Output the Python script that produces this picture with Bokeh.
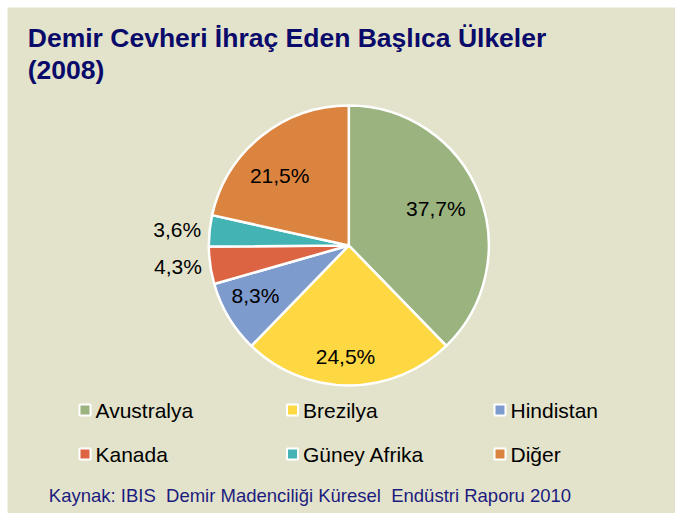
import math
from bokeh.plotting import figure
from bokeh.models import Range1d, ColumnDataSource
from bokeh.core.properties import value
from bokeh.embed import file_html
from bokeh.resources import INLINE

# ---------------- data ----------------
countries = ["Avustralya", "Brezilya", "Hindistan", "Kanada", "Güney Afrika", "Diğer"]
shares = [37.7, 24.5, 8.3, 4.3, 3.6, 21.5]
share_labels = ["37,7%", "24,5%", "8,3%", "4,3%", "3,6%", "21,5%"]
title_lines = ["Demir Cevheri İhraç Eden Başlıca Ülkeler", "(2008)"]
source_note = "Kaynak: IBIS\u00a0 Demir Madenciliği Küresel\u00a0 Endüstri Raporu 2010"

# ---------------- style ----------------
colors = ["#9BB37F", "#FDD843", "#7E9BCE", "#DC6443", "#43B4B3", "#DB843F"]
BG = "#E3E3CB"
NAVY = "#0A0A6A"
SRC_COL = "#1C1C7E"
FONT = "Liberation Sans"
W, H = 675, 513
PAD = 7
CX, CY_PAGE, R = 348.3, 245.0, 140.0
label_rad = [0.675, 0.79, 0.757, 1.06, 1.06, 0.705]
label_rot = [0.9, -1.7, -2.6, 0.0, 0.0, 5.7]
label_inside = [True, True, True, False, False, True]


def Y(page_y):
    return H - page_y


p = figure(width=W, height=H, output_backend="svg", toolbar_location=None,
           x_range=Range1d(PAD, W), y_range=Range1d(0, H - PAD),
           x_axis_location=None, y_axis_location=None,
           min_border_left=PAD, min_border_top=PAD,
           min_border_right=0, min_border_bottom=0,
           background_fill_color=BG, border_fill_color="white",
           outline_line_color=None)
p.grid.visible = False

# ---------------- pie ----------------
total = sum(shares)
starts, ends, mids = [], [], []
cum = 0.0
for s in shares:
    a0 = math.pi / 2 - (cum + s) / total * 2 * math.pi
    a1 = math.pi / 2 - cum / total * 2 * math.pi
    starts.append(a0)
    ends.append(a1)
    mids.append((a0 + a1) / 2)
    cum += s

cy = Y(CY_PAGE)
src = ColumnDataSource(dict(start=starts, end=ends, color=colors))
p.wedge(x=CX, y=cy, radius=R, start_angle="start", end_angle="end",
        fill_color="color", line_color="white", line_width=2.5, source=src)

in_x, in_y, in_t, out_x, out_y, out_t = [], [], [], [], [], []
for m, rf, rot, ins, t in zip(mids, label_rad, label_rot, label_inside, share_labels):
    a = m + math.radians(rot)
    x = CX + R * rf * math.cos(a)
    y = cy + R * rf * math.sin(a)
    if ins:
        in_x.append(x); in_y.append(y); in_t.append(t)
    else:
        out_x.append(x); out_y.append(y); out_t.append(t)

p.text(x=in_x, y=in_y, text=in_t, text_font=value(FONT), text_font_size="21px",
       text_color="black", text_align="center", text_baseline="middle")
p.text(x=out_x, y=out_y, text=out_t, text_font=value(FONT), text_font_size="21px",
       text_color="black", text_align="right", text_baseline="middle")

# ---------------- title ----------------
p.text(x=[27.3, 27.3], y=[Y(37.5), Y(69.5)], text=title_lines,
       text_font=value(FONT), text_font_size="26.5px", text_font_style="bold",
       text_color=NAVY, text_align="left", text_baseline="middle")

# ---------------- legend ----------------
LEG_X0, LEG_DX = 84.5, 207.5
LEG_Y0, LEG_DY = 409.5, 44.0
sq_x, sq_y, tx, ty = [], [], [], []
for i, name in enumerate(countries):
    r, c = divmod(i, 3)
    sx = LEG_X0 + c * LEG_DX
    sy = LEG_Y0 + r * LEG_DY
    sq_x.append(sx); sq_y.append(Y(sy))
    tx.append(sx + 10.5); ty.append(Y(sy))
p.scatter(x=sq_x, y=sq_y, marker="square", size=11, fill_color=colors,
          line_color="white", line_width=2)
p.text(x=tx, y=ty, text=countries, text_font=value(FONT), text_font_size="21px",
       text_color="black", text_align="left", text_baseline="middle")

# ---------------- source ----------------
p.text(x=[48.3], y=[Y(495.0)], text=[source_note], text_font=value(FONT),
       text_font_size="18.5px", text_color=SRC_COL, text_align="left",
       text_baseline="middle")

open("out.html", "w").write(file_html(p, INLINE))
